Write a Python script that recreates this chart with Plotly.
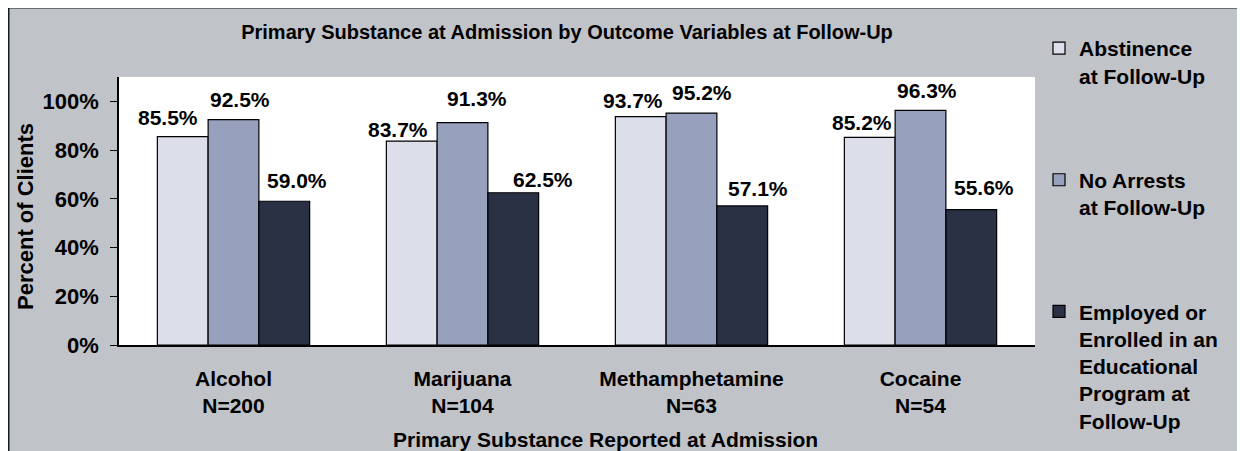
import plotly.graph_objects as go

# ---------------- data ----------------
categories = ["Alcohol", "Marijuana", "Methamphetamine", "Cocaine"]
n_counts = [200, 104, 63, 54]
series_names = [
    "Abstinence<br>at Follow-Up",
    "No Arrests<br>at Follow-Up",
    "Employed or<br>Enrolled in an<br>Educational<br>Program at<br>Follow-Up",
]
abstinence = [85.5, 83.7, 93.7, 85.2]
no_arrests = [92.5, 91.3, 95.2, 96.3]
employed = [59.0, 62.5, 57.1, 55.6]
y_ticks = [0, 20, 40, 60, 80, 100]
y_tick_labels = ["0%", "20%", "40%", "60%", "80%", "100%"]

title_text = "Primary Substance at Admission by Outcome Variables at Follow-Up"
x_title = "Primary Substance Reported at Admission"
y_title = "Percent of Clients"

# ---------------- style ----------------
colors = ["#DCDEEA", "#97A0BC", "#2B3145"]
bg_gray = "#C0C3C8"
FONT = "Arial, Liberation Sans, sans-serif"

W, H = 1245, 451
OFF = 8  # page body margin
# plot area in page pixels: x 119..1035, y 77..345
ML, MT = 119 - OFF, 77 - OFF
MR = W - (1035 - OFF)
MB = H - (345 - OFF)
PW, PH = W - ML - MR, H - MT - MB
BARGAP = 0.335

# label offsets (pixels) per series, per category
label_dx = [[-14.7, -13.5, -7.7, -7.5],
            [6.0, 14.5, 10.0, 6.7],
            [13.0, 30.0, 16.0, 12.8]]
label_dy = [[12, 4, 9, 7],
            [13, 17, 12.6, 12.7],
            [13, 6, 9.7, 14.3]]


def px2x(px):  # page pixel -> paper x
    return (px - 119) / PW


def py2y(py):  # page pixel -> paper y
    return (345 - py) / PH


series_values = [abstinence, no_arrests, employed]

fig = go.Figure()
for name, vals, col in zip(series_names, series_values, colors):
    fig.add_trace(go.Bar(
        x=categories, y=vals, name=name, legendgroup=name,
        marker=dict(color=col, line=dict(color="#000000", width=1.2)),
    ))

cat_w = PW / len(categories)
bar_w = cat_w * (1 - BARGAP) / len(series_values)
annotations = []
for i, vals in enumerate(series_values):
    for j, (c, v) in enumerate(zip(categories, vals)):
        annotations.append(dict(
            x=c, y=v, xref="x", yref="y", text=f"{v:.1f}%", showarrow=False,
            xanchor="center", yanchor="middle",
            xshift=(i - 1) * bar_w + label_dx[i][j],
            yshift=label_dy[i][j] + 7.5,
            font=dict(size=21, color="#000000", family=FONT, weight="bold"),
        ))

annotations.append(dict(
    x=px2x(25), y=py2y(217), xref="paper", yref="paper", text=y_title, textangle=-90,
    showarrow=False, xanchor="center", yanchor="middle",
    font=dict(size=22, color="#000000", family=FONT, weight="bold"),
))
annotations.append(dict(
    x=px2x(605), y=py2y(439), xref="paper", yref="paper", text=x_title,
    showarrow=False, xanchor="center", yanchor="middle",
    font=dict(size=21, color="#000000", family=FONT, weight="bold"),
))

shapes = [
    dict(type="rect", xref="paper", yref="paper", layer="below",
         x0=px2x(8.5), x1=px2x(1600), y0=py2y(800), y1=py2y(7.5),
         fillcolor=bg_gray, line=dict(color="#1a1a1a", width=2)),
    dict(type="rect", xref="paper", yref="paper", layer="below",
         x0=0, x1=1, y0=0, y1=1, fillcolor="#FFFFFF", line=dict(width=0)),
]

fig.update_layout(
    width=W, height=H,
    margin=dict(l=ML, r=MR, t=MT, b=MB, autoexpand=False),
    paper_bgcolor=bg_gray, plot_bgcolor="#FFFFFF",
    font=dict(family=FONT, color="#000000", weight="bold"),
    barmode="group", bargap=BARGAP, bargroupgap=0,
    title=dict(text=title_text, x=(567 - OFF) / W, xref="container", xanchor="center",
               y=1 - (32 - OFF) / H, yref="container", yanchor="middle",
               font=dict(size=20, family=FONT, color="#000000", weight="bold")),
    xaxis=dict(
        type="category", tickvals=categories,
        ticktext=[f"{c}<br>N={n}" for c, n in zip(categories, n_counts)],
        showline=True, linecolor="#000000", linewidth=1.5, ticks="",
        tickfont=dict(size=21, weight="bold"), ticklabelstandoff=14,
        showgrid=False, zeroline=False,
    ),
    yaxis=dict(
        range=[0, 110], tickvals=y_ticks, ticktext=y_tick_labels,
        ticks="outside", ticklen=7, tickcolor="#000000", tickwidth=1.2,
        showline=True, linecolor="#000000", linewidth=1.5,
        tickfont=dict(size=22, weight="bold"), ticklabelstandoff=7,
        showgrid=False, zeroline=False,
    ),
    legend=dict(
        x=px2x(1039), xanchor="left", y=py2y(28), yanchor="top",
        font=dict(size=21, family=FONT, weight="bold"),
        bgcolor="rgba(0,0,0,0)", tracegroupgap=74, valign="top",
        traceorder="grouped", maxheight=1000,
    ),
    annotations=annotations,
    shapes=shapes,
)

fig.write_html("out.html")
